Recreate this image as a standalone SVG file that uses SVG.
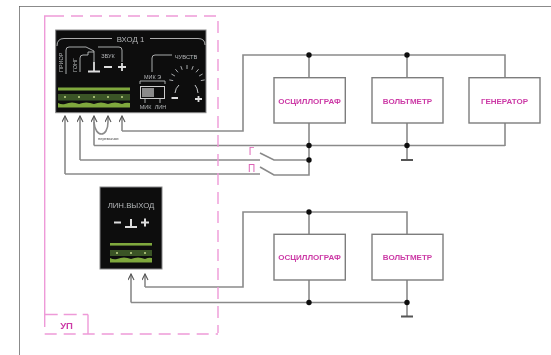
<svg xmlns="http://www.w3.org/2000/svg" width="551" height="355" viewBox="0 0 551 355">
<style>
.w{fill:none;stroke:#8a8a8a;stroke-width:1.6}
.a{fill:none;stroke:#8a8a8a;stroke-width:1.6;marker-end:url(#ah)}
.d{fill:none;stroke:#ee9ad8;stroke-width:1.4}
.b{fill:#fff;stroke:#7d7d7d;stroke-width:1.4}
.m{font:bold 8px "Liberation Sans",sans-serif;fill:#cc3aa6;text-anchor:middle}
.p{fill:#0a0c0e;stroke:#888;stroke-width:1}
.t{font:6.2px "Liberation Sans",sans-serif;fill:#b8b8b8;text-anchor:middle}
.l{fill:none;stroke:#bdbdbd;stroke-width:.9}
.s{fill:none;stroke:#ddd;stroke-width:1.8}
.g1{fill:#7fa83c}
.g2{fill:#3b5527}
.o{fill:#c4d88a}
.j{fill:#111}
.gnd{stroke:#555;stroke-width:1.8}
</style>
<defs>
<marker id="ah" markerUnits="userSpaceOnUse" markerWidth="8" markerHeight="8" refX="6.5" refY="3.5" orient="auto"><path d="M0.5 0.5L6.5 3.5L0.5 6.5" fill="none" stroke="#555" stroke-width="1.1"/></marker>
<filter id="bl" x="0" y="0" width="100%" height="100%"><feGaussianBlur stdDeviation="0.4"/></filter>
</defs>
<rect width="551" height="355" fill="#fff"/>
<g filter="url(#bl)">
<path d="M19 355V6H551" fill="none" stroke="#666" stroke-width="1.5"/>
<g id="connectors">
<path class="a" d="M122 131V116"/>
<path class="w" d="M122 131H243V55H505V78M505 123V146M309 55V78M407 55V78"/>
<path class="a" d="M94 145.500V116"/>
<path class="w" d="M94 145.500H505M309 123V175H274L260 167M309 160H274L260 153M407 123V160"/>
<path class="a" d="M80 160V116"/>
<path class="w" d="M80 160H260"/>
<path class="a" d="M65 174V116"/>
<path class="w" d="M65 174H260"/>
<path class="a" d="M94 122C95 138 108 138 108 122V116"/>
<path class="a" d="M145 287V274"/>
<path class="w" d="M145 287H243V212H407V234M309 212V234M309 280V302.500M407 280V316"/>
<path class="a" d="M131 302.500V274"/>
<path class="w" d="M131 302.500H407"/>
<path class="gnd" d="M401 160H413M401 316.500H413"/>
<circle class="j" cx="309" cy="55" r="2.700"/><circle class="j" cx="407" cy="55" r="2.700"/>
<circle class="j" cx="309" cy="145.500" r="2.700"/><circle class="j" cx="407" cy="145.500" r="2.700"/>
<circle class="j" cx="309" cy="160" r="2.700"/>
<circle class="j" cx="309" cy="212" r="2.700"/><circle class="j" cx="309" cy="302.500" r="2.700"/><circle class="j" cx="407" cy="302.500" r="2.700"/>
<text x="98" y="140" font-family="Liberation Sans,sans-serif" font-size="4" fill="#444">перемычки</text>
<text x="251.500" y="155" class="m" style="font-size:10px;font-weight:normal;fill:#dd62b6">Г</text>
<text x="251.500" y="172" class="m" style="font-size:10px;font-weight:normal;fill:#dd62b6">П</text>
</g>
<g id="up-frame">
<path class="d" stroke-dasharray="12 7" d="M52 16H218V333"/>
<path class="d" d="M52 16H44.700V315"/>
<path class="d" stroke-dasharray="12 7" d="M44.700 315V334H218"/>
<path class="d" stroke-dasharray="13 6" d="M44.700 314.500H88"/>
<path class="d" d="M88 314.500V334"/>
<text x="66.500" y="329" style="font:bold 9.500px 'Liberation Sans',sans-serif;fill:#cc3aa6;text-anchor:middle">УП</text>
</g>
<g id="panel-input">
<rect class="p" x="55.700" y="30" width="150.300" height="82.700"/>
<text class="t" x="130.500" y="41.500" style="font-size:7.800px">ВХОД 1</text>
<path class="l" d="M112 38.500H64Q57 38.500 57 46M150 38.500H198Q205 38.500 205 45"/>
<text class="t" transform="translate(63 72) rotate(-90)" style="text-anchor:start;font-size:5.500px">ПРИОР</text>
<text class="t" transform="translate(77 72) rotate(-90)" style="text-anchor:start;font-size:5.500px">ГОНГ</text>
<path class="l" d="M66 74V50Q66 47 69 47H86L94 51V62M98 47H119Q122 47 122 50V62M80 72V58Q80 55 83 55H88V52H94"/>
<text class="t" x="108" y="57.500" style="font-size:5.500px">ЗВУК</text>
<path class="s" d="M94 62V71M88 71.500H100M104 67H112M118 67H126M122 63V71"/>
<rect class="g1" x="58" y="87.500" width="72" height="3"/>
<rect class="g2" x="58" y="94" width="72" height="6.500"/>
<path class="g1" d="M58 103Q62 105 65 104Q72 101 79 104Q86 101 94 104Q101 101 108 104Q115 101 122 104Q126 102 130 103V107.500H58Z"/>
<circle class="o" cx="65" cy="97" r="1"/><circle class="o" cx="79" cy="97" r="1"/><circle class="o" cx="94" cy="97" r="1"/><circle class="o" cx="108" cy="97" r="1"/><circle class="o" cx="122" cy="97" r="1"/>
<text class="t" x="186" y="58.500" style="font-size:5.800px">ЧУВСТВ</text>
<path class="l" d="M152 72V58Q152 55 155 55H172M140 84V81H165V84M145 99V103M160 99V103"/>
<text class="t" x="152.500" y="79" style="font-size:5.500px">МИК Э</text>
<rect x="140.500" y="86.500" width="24" height="12" fill="#111" stroke="#ccc"/>
<rect x="142" y="88" width="12" height="9" fill="#8a8a8a"/>
<text class="t" x="145.500" y="108.500" style="font-size:5.500px">МИК</text>
<text class="t" x="160.500" y="108.500" style="font-size:5.500px">ЛИН</text>
<path class="l" stroke-width="1.200" d="M173.200 80.600L169.300 79.900M174.900 76L171.400 74M178 72.300L175.400 69.200M182.200 69.800L180.800 66.100M187 69V65M191.800 69.800L193.200 66.100M196 72.300L198.600 69.200M199.100 76L202.600 74M200.800 80.600L204.700 79.900"/>
<path class="s" style="stroke-width:.9" d="M175 93Q175.500 88 179 85M198 93Q197.500 88 195 85"/>
<path class="s" d="M171.500 98H178M195 99H202M198.500 96V102"/>
</g>
<g id="panel-output">
<rect class="p" x="100" y="187" width="62" height="82"/>
<text class="t" x="131" y="207.500" style="font-size:7.800px">ЛИН.ВЫХОД</text>
<path class="s" style="stroke-width:2" d="M114 222.500H121M131 219V226.500M125 227H137M141 222.500H149M145 218.500V226.500"/>
<rect class="g1" x="110" y="243" width="42" height="2.600"/>
<rect class="g2" x="110" y="250" width="42" height="6"/>
<path class="g1" d="M110 258Q114 260 117 259Q124 256 131 259Q138 256 145 259Q149 257 152 258V262.500H110Z"/>
<circle class="o" cx="117" cy="253" r="1"/><circle class="o" cx="131" cy="253" r="1"/><circle class="o" cx="145" cy="253" r="1"/>
</g>
<g id="osc-1"><rect class="b" x="274" y="77.700" width="71.300" height="45.300"/><text class="m" x="309.500" y="103.500">ОСЦИЛЛОГРАФ</text></g>
<g id="volt-1"><rect class="b" x="372" y="77.700" width="71" height="45.300"/><text class="m" x="407.500" y="103.500">ВОЛЬТМЕТР</text></g>
<g id="gen-1"><rect class="b" x="469" y="77.700" width="71" height="45.300"/><text class="m" x="504.500" y="103.500">ГЕНЕРАТОР</text></g>
<g id="osc-2"><rect class="b" x="274" y="234.300" width="71.300" height="45.700"/><text class="m" x="309.500" y="260">ОСЦИЛЛОГРАФ</text></g>
<g id="volt-2"><rect class="b" x="372" y="234.300" width="71" height="45.700"/><text class="m" x="407.500" y="260">ВОЛЬТМЕТР</text></g>
</g>
</svg>
